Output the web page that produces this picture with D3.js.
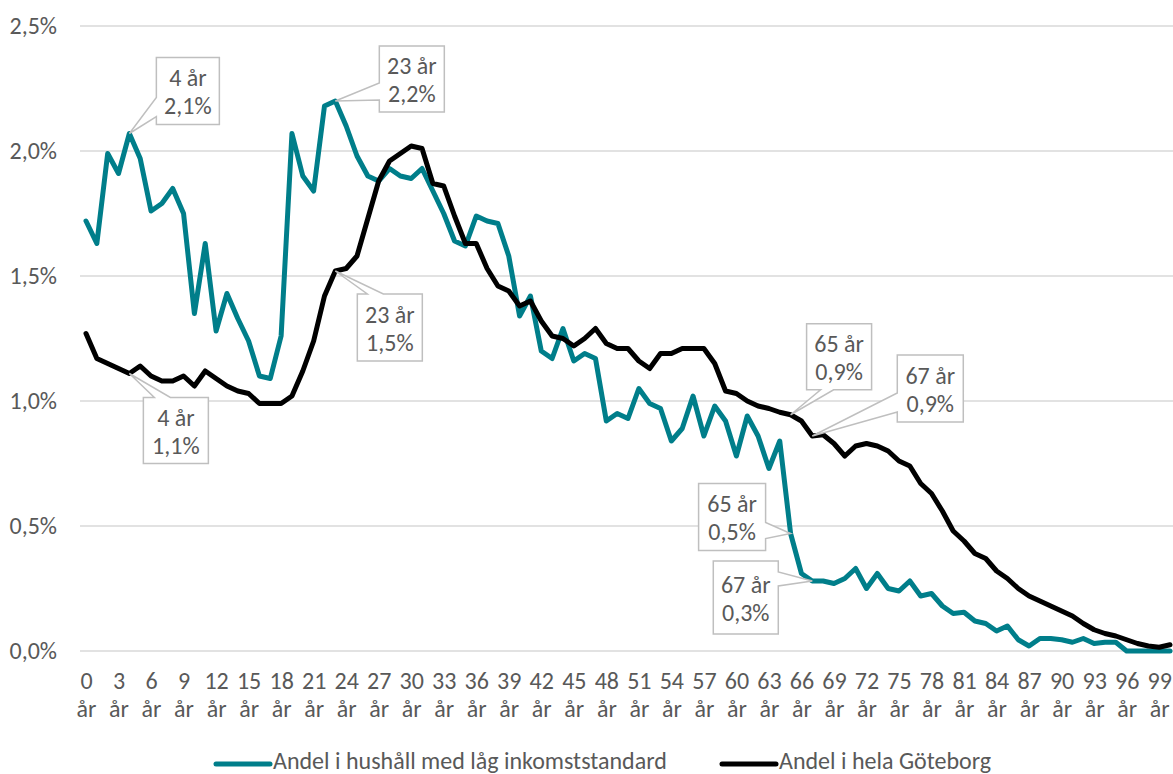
<!DOCTYPE html>
<html>
<head>
<meta charset="utf-8">
<script src="https://cdn.jsdelivr.net/npm/d3@7"></script>
<style>
  html, body { margin: 0; padding: 0; background: #fff; }
  svg { display: block; }
  text { font-family: Carlito, Lato, "Open Sans", sans-serif; fill: #595959; }
</style>
</head>
<body>
<svg id="chart" width="1173" height="774"></svg>
<script>
// ---------- data ----------
const ages = d3.range(0, 101);
const tickAges = d3.range(0, 100, 3);
const yTicks = [0, 0.5, 1.0, 1.5, 2.0, 2.5];

const seriesNames = ["Andel i hushåll med låg inkomststandard", "Andel i hela Göteborg"];

const lowIncome = [
  1.72, 1.63, 1.99, 1.91, 2.07, 1.97, 1.76, 1.79, 1.85, 1.75,
  1.35, 1.63, 1.28, 1.43, 1.33, 1.24, 1.10, 1.09, 1.26, 2.07,
  1.90, 1.84, 2.18, 2.20, 2.10, 1.98, 1.90, 1.88, 1.93, 1.90,
  1.89, 1.93, 1.84, 1.75, 1.64, 1.62, 1.74, 1.72, 1.71, 1.58,
  1.34, 1.42, 1.20, 1.17, 1.29, 1.16, 1.19, 1.17, 0.92, 0.95,
  0.93, 1.05, 0.99, 0.97, 0.84, 0.89, 1.02, 0.86, 0.98, 0.92,
  0.78, 0.94, 0.86, 0.73, 0.84, 0.47, 0.31, 0.28, 0.28, 0.27,
  0.29, 0.33, 0.25, 0.31, 0.25, 0.24, 0.28, 0.22, 0.23, 0.18,
  0.15, 0.155, 0.12, 0.11, 0.08, 0.10, 0.045, 0.02, 0.05, 0.05,
  0.045, 0.035, 0.05, 0.03, 0.035, 0.035, 0.0, 0.0, 0.0, 0.0,
  0.0
];

const allGbg = [
  1.27, 1.17, 1.15, 1.13, 1.11, 1.14, 1.10, 1.08, 1.08, 1.10,
  1.06, 1.12, 1.09, 1.06, 1.04, 1.03, 0.99, 0.99, 0.99, 1.02,
  1.12, 1.24, 1.42, 1.52, 1.53, 1.58, 1.73, 1.88, 1.96, 1.99,
  2.02, 2.01, 1.87, 1.86, 1.74, 1.63, 1.63, 1.53, 1.46, 1.44,
  1.38, 1.40, 1.32, 1.26, 1.25, 1.22, 1.25, 1.29, 1.23, 1.21,
  1.21, 1.16, 1.13, 1.19, 1.19, 1.21, 1.21, 1.21, 1.15, 1.04,
  1.03, 1.00, 0.98, 0.97, 0.955, 0.945, 0.92, 0.86, 0.865, 0.83,
  0.78, 0.82, 0.83, 0.82, 0.80, 0.76, 0.74, 0.67, 0.63, 0.56,
  0.48, 0.44, 0.39, 0.37, 0.32, 0.29, 0.25, 0.22, 0.20, 0.18,
  0.16, 0.14, 0.11, 0.085, 0.07, 0.06, 0.045, 0.03, 0.02, 0.015,
  0.025
];

// annotated points: series index, age, label lines
const annoSeries = [0, 0, 1, 1, 1, 1, 0, 0];
const annoAges   = [4, 23, 23, 4, 65, 67, 65, 67];
const annoLabels = [
  ["4 år", "2,1%"], ["23 år", "2,2%"], ["23 år", "1,5%"], ["4 år", "1,1%"],
  ["65 år", "0,9%"], ["67 år", "0,9%"], ["65 år", "0,5%"], ["67 år", "0,3%"]
];

// ---------- layout / style ----------
const colors = ["#007e8a", "#000000"];
const W = 1173, H = 774;
const plot = { left: 86, right: 1170, top: 26, bottom: 651 };
const gridX0 = 80;
const fontSize = 24;

// callout layout: box offset from point, size, wedge side & base offsets along that side
const annoLayout = [
  { dx: 27,  dy: -76, w: 63, h: 67, side: "left",   a: 40, b: 59 },
  { dx: 44,  dy: -55, w: 65, h: 66, side: "left",   a: 37, b: 54 },
  { dx: 22,  dy: 23,  w: 65, h: 67, side: "top",    a: 10, b: 26 },
  { dx: 14,  dy: 24,  w: 65, h: 66, side: "top",    a: 11, b: 27 },
  { dx: 16,  dy: -91, w: 65, h: 66, side: "bottom", a: 14, b: 27 },
  { dx: 85,  dy: -81, w: 66, h: 67, side: "left",   a: 38, b: 57 },
  { dx: -92, dy: -50, w: 67, h: 67, side: "right",  a: 39, b: 55 },
  { dx: -99, dy: -20, w: 65, h: 73, side: "right",  a: 11, b: 25 }
];

// ---------- chart ----------
const svg = d3.select("#chart");
const x = d3.scaleLinear().domain([0, 100]).range([plot.left, plot.right]);
const y = d3.scaleLinear().domain([0, 2.5]).range([plot.bottom, plot.top]);
const loc = d3.formatLocale({ decimal: ",", thousands: " ", grouping: [3], currency: ["", " kr"] });
const fmt = v => loc.format(".1f")(v) + "%";

// grid
svg.append("g").selectAll("line").data(yTicks).join("line")
  .attr("x1", gridX0).attr("x2", W)
  .attr("y1", d => y(d)).attr("y2", d => y(d))
  .attr("stroke", "#d9d9d9").attr("stroke-width", 1.5);

// y axis labels
const yAxis = d3.axisLeft(y).tickValues(yTicks).tickFormat(fmt).tickSize(0).tickPadding(0);
const yg = svg.append("g").attr("transform", `translate(57,0)`).call(yAxis);
yg.select(".domain").remove();
yg.selectAll("text").attr("font-size", fontSize).attr("fill", "#595959")
  .attr("font-family", null).attr("dy", "0.33em");

// x axis labels (two lines)
const xAxis = d3.axisBottom(x).tickValues(tickAges).tickFormat("").tickSize(0);
const xg = svg.append("g").attr("transform", `translate(0,${plot.bottom})`).call(xAxis);
xg.select(".domain").remove();
xg.selectAll(".tick").each(function(d) {
  const g = d3.select(this);
  g.select("text").remove();
  g.append("text").attr("text-anchor", "middle").attr("y", 38)
    .attr("font-size", fontSize).text(d);
  g.append("text").attr("text-anchor", "middle").attr("y", 66)
    .attr("font-size", fontSize).text("år");
});

// lines
const seriesData = [lowIncome, allGbg];
const line = d3.line().x((d, i) => x(ages[i])).y(d => y(d));
svg.append("g").selectAll("path").data(seriesData).join("path")
  .attr("d", d => line(d))
  .attr("fill", "none")
  .attr("stroke", (d, i) => colors[i])
  .attr("stroke-width", 5)
  .attr("stroke-linejoin", "round")
  .attr("stroke-linecap", "round");

// callouts
function calloutPath(px, py, L) {
  const x0 = px + L.dx, y0 = py + L.dy, x1 = x0 + L.w, y1 = y0 + L.h;
  let pts;
  if (L.side === "left") {
    pts = [[x0, y0], [x1, y0], [x1, y1], [x0, y1], [x0, y0 + L.b], [px, py], [x0, y0 + L.a]];
  } else if (L.side === "right") {
    pts = [[x0, y0], [x1, y0], [x1, y0 + L.a], [px, py], [x1, y0 + L.b], [x1, y1], [x0, y1]];
  } else if (L.side === "top") {
    pts = [[x0, y0], [x0 + L.a, y0], [px, py], [x0 + L.b, y0], [x1, y0], [x1, y1], [x0, y1]];
  } else {
    pts = [[x0, y0], [x1, y0], [x1, y1], [x0 + L.b, y1], [px, py], [x0 + L.a, y1], [x0, y1]];
  }
  return "M" + pts.map(p => p.join(",")).join("L") + "Z";
}
const ag = svg.append("g");
annoAges.forEach((age, k) => {
  const px = x(age), py = y(seriesData[annoSeries[k]][age]);
  const L = annoLayout[k];
  ag.append("path").attr("d", calloutPath(px, py, L))
    .attr("fill", "#fff").attr("stroke", "#bfbfbf").attr("stroke-width", 1.5)
    .attr("stroke-linejoin", "miter");
  const cx = px + L.dx + L.w / 2, cy = py + L.dy + L.h / 2;
  ag.append("text").attr("x", cx).attr("y", cy - 5).attr("text-anchor", "middle")
    .attr("font-size", fontSize).text(annoLabels[k][0]);
  ag.append("text").attr("x", cx).attr("y", cy + 23).attr("text-anchor", "middle")
    .attr("font-size", fontSize).text(annoLabels[k][1]);
});

// legend
const legendX = [216, 722];
const lg = svg.append("g");
seriesNames.forEach((name, i) => {
  lg.append("line").attr("x1", legendX[i]).attr("x2", legendX[i] + 54)
    .attr("y1", 764).attr("y2", 764)
    .attr("stroke", colors[i]).attr("stroke-width", 5).attr("stroke-linecap", "round");
  lg.append("text").attr("x", legendX[i] + 57).attr("y", 769)
    .attr("font-size", fontSize).text(name);
});
</script>
</body>
</html>
